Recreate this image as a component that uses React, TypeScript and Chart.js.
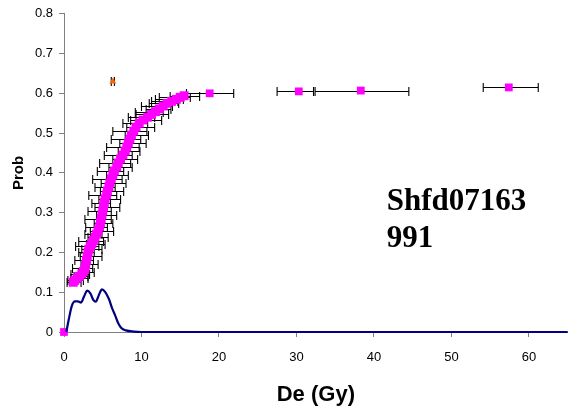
import React, { useEffect, useRef } from "react";
import { Chart, registerables } from "chart.js";

Chart.register(...registerables);

// Sorted De values (Gy) and cumulative probability (magenta curve)
const curveDe = [
  1.2, 1.4, 1.7, 2.0, 2.3, 2.5, 2.7, 2.8, 2.9, 3.0, 3.1, 3.2, 3.4, 3.6, 3.8, 4.0, 4.2, 4.4, 4.6,
  4.7, 4.8, 4.9, 5.0, 5.1, 5.2, 5.3, 5.5, 5.6, 5.8, 5.9, 6.1, 6.3, 6.5, 6.8, 7.0, 7.3, 7.6, 7.9,
  8.1, 8.3, 8.5, 8.7, 9.0, 9.3, 9.7, 10.2, 10.8, 11.3, 11.8, 12.3, 12.8, 13.3, 13.9, 14.5, 15.0,
  15.5,
];
const curveProb = [
  0.125, 0.13, 0.135, 0.14, 0.146, 0.152, 0.16, 0.17, 0.18, 0.19, 0.2, 0.208, 0.216, 0.222, 0.23,
  0.238, 0.246, 0.255, 0.265, 0.275, 0.285, 0.295, 0.305, 0.315, 0.325, 0.335, 0.345, 0.355, 0.365,
  0.375, 0.385, 0.395, 0.405, 0.415, 0.425, 0.435, 0.445, 0.455, 0.465, 0.475, 0.485, 0.495, 0.505,
  0.515, 0.525, 0.533, 0.54, 0.547, 0.554, 0.561, 0.568, 0.575, 0.58, 0.585, 0.59, 0.594,
];
// Individual De measurements behind the curve (centre and half-width of the error bar)
const barDe = [
  1.3, 1.5, 2.0, 2.2, 2.1, 2.9, 2.4, 3.3, 2.6, 3.5, 2.9, 3.6, 3.0, 4.1, 3.5, 4.4, 3.8, 4.9, 4.2,
  5.1, 4.4, 5.5, 4.6, 5.6, 4.8, 5.9, 5.0, 6.2, 5.3, 6.4, 5.6, 6.9, 6.0, 7.3, 6.6, 7.9, 7.0, 8.4,
  7.6, 8.9, 8.0, 9.4, 8.5, 9.9, 9.2, 10.6, 10.0, 11.4, 11.0, 12.2, 12.0, 12.9, 13.0, 13.6, 14.3,
  15.6,
];
const barErr = [
  0.9, 1.0, 1.1, 0.9, 1.2, 1.0, 1.3, 1.1, 1.2, 1.4, 1.0, 1.3, 1.5, 1.2, 1.6, 1.3, 1.1, 1.5, 1.4,
  1.2, 1.7, 1.3, 1.5, 1.6, 1.2, 1.4, 1.8, 1.5, 1.3, 1.6, 1.9, 1.4, 1.7, 1.5, 2.0, 1.6, 1.8, 1.4,
  2.1, 1.7, 1.9, 1.5, 2.2, 1.8, 1.6, 2.0, 1.7, 2.1, 1.8, 1.6, 2.0, 1.9, 1.7, 1.8, 2.0, 1.9,
];
// High-dose points
const farDe = [0, 18.8, 30.3, 38.3, 57.4];
const farProb = [0, 0.6, 0.605, 0.607, 0.615];
const farErrLow = [0, 3.0, 2.8, 5.9, 3.3];
const farErrHigh = [0, 3.1, 1.9, 6.2, 3.8];

// Probability density curve
const densityDe = [
  0.3, 0.6, 1.0, 1.4, 1.8, 2.2, 2.6, 3.0, 3.4, 3.8, 4.1, 4.5, 4.9, 5.3, 5.8, 6.2, 6.6, 7.0, 7.4,
  8.0, 9.0, 10, 20, 30, 40, 50, 65,
];
const densityProb = [
  0, 0.03, 0.065, 0.077, 0.077, 0.074, 0.09, 0.104, 0.097, 0.08, 0.076, 0.093, 0.107, 0.101, 0.083,
  0.06, 0.042, 0.022, 0.01, 0.004, 0.001, 0, 0, 0, 0, 0, 0,
];

// Outlier (orange) point
const outlierDe = [6.3];
const outlierProb = [0.63];
const outlierErr = [0.2];

const xTicks = [0, 10, 20, 30, 40, 50, 60];
const yTicks = [0, 0.1, 0.2, 0.3, 0.4, 0.5, 0.6, 0.7, 0.8];
const sampleLabel = ["Shfd07163", "991"];

const errorBarPlugin = {
  id: "errorBars",
  beforeDatasetsDraw(chart: any) {
    const { ctx, scales } = chart;
    const xs = scales.x;
    const ys = scales.y;
    const draw = (x: number, y: number, lo: number, hi: number) => {
      if (!lo && !hi) return;
      const x1 = xs.getPixelForValue(x - lo);
      const x2 = xs.getPixelForValue(x + hi);
      const py = Math.round(ys.getPixelForValue(y)) + 0.5;
      ctx.beginPath();
      ctx.moveTo(x1, py);
      ctx.lineTo(x2, py);
      ctx.moveTo(x1, py - 4.5);
      ctx.lineTo(x1, py + 4.5);
      ctx.moveTo(x2, py - 4.5);
      ctx.lineTo(x2, py + 4.5);
      ctx.stroke();
    };
    ctx.save();
    ctx.strokeStyle = "#000";
    ctx.lineWidth = 1.1;
    barDe.forEach((d, i) => draw(d, curveProb[i], barErr[i], barErr[i]));
    farDe.forEach((d, i) => draw(d, farProb[i], farErrLow[i], farErrHigh[i]));
    outlierDe.forEach((d, i) => draw(d, outlierProb[i], outlierErr[i], outlierErr[i]));
    ctx.restore();
  },
};

const labelPlugin = {
  id: "sampleLabel",
  afterDraw(chart: any) {
    const { ctx, scales } = chart;
    const x = scales.x.getPixelForValue(41.65);
    const y = scales.y.getPixelForValue(0.306);
    ctx.save();
    ctx.fillStyle = "#000";
    ctx.font = "bold 31px 'Liberation Serif', 'Times New Roman', serif";
    ctx.textAlign = "left";
    ctx.textBaseline = "alphabetic";
    sampleLabel.forEach((t, i) => ctx.fillText(t, x, y + i * 37));
    ctx.restore();
  },
};

export default function App() {
  const ref = useRef<HTMLCanvasElement>(null);
  useEffect(() => {
    if (!ref.current) return;
    const font = "'Liberation Sans', Arial, sans-serif";
    const magenta = "#FF00FF";
    const chart = new Chart(ref.current, {
      type: "scatter",
      data: {
        datasets: [
          {
            type: "line",
            data: densityDe.map((d, i) => ({ x: d, y: densityProb[i] })),
            borderColor: "#000080",
            borderWidth: 2.2,
            pointRadius: 0,
            showLine: true,
            cubicInterpolationMode: "monotone",
            fill: false,
            clip: false,
          } as any,
          {
            data: curveDe.map((d, i) => ({ x: d, y: curveProb[i] })),
            pointStyle: "rect",
            pointRadius: 6.3,
            backgroundColor: magenta,
            borderColor: magenta,
            borderWidth: 0,
            clip: false,
          } as any,
          {
            data: farDe.map((d, i) => ({ x: d, y: farProb[i] })),
            pointStyle: "rect",
            pointRadius: 5.5,
            backgroundColor: magenta,
            borderColor: magenta,
            borderWidth: 0,
            clip: false,
          } as any,
          {
            data: outlierDe.map((d, i) => ({ x: d, y: outlierProb[i] })),
            pointStyle: "triangle",
            pointRadius: 4,
            backgroundColor: "#FF6600",
            borderColor: "#FF6600",
            borderWidth: 0,
          } as any,
        ],
      },
      options: {
        responsive: false,
        animation: false,
        layout: { padding: { top: 13, right: 0, left: 0, bottom: 0 } },
        plugins: { legend: { display: false }, tooltip: { enabled: false } },
        scales: {
          x: {
            type: "linear",
            min: 0,
            max: 65,
            afterBuildTicks: (s: any) => {
              s.ticks = xTicks.map((v) => ({ value: v }));
            },
            afterFit: (s: any) => {
              s.height = 85;
              s.paddingRight = 0;
              s.paddingLeft = 0;
            },
            grid: { drawOnChartArea: false, drawTicks: true, tickLength: 5, color: "#808080" },
            border: { color: "#808080", width: 1 },
            ticks: { color: "#000", font: { family: font, size: 13 }, padding: 13, maxRotation: 0 },
            title: {
              display: true,
              text: "De (Gy)",
              color: "#000",
              font: { family: font, size: 22, weight: "bold" },
              padding: { top: 0, bottom: 9 },
            },
          },
          y: {
            type: "linear",
            min: 0,
            max: 0.8,
            afterBuildTicks: (s: any) => {
              s.ticks = yTicks.map((v) => ({ value: v }));
            },
            afterFit: (s: any) => {
              s.width = 64;
            },
            grid: { drawOnChartArea: false, drawTicks: true, tickLength: 5, color: "#808080" },
            border: { color: "#808080", width: 1 },
            ticks: {
              color: "#000",
              font: { family: font, size: 13 },
              padding: 6,
              callback: (v: any) => String(Math.round(Number(v) * 10) / 10),
            },
            title: {
              display: true,
              text: "Prob",
              color: "#000",
              font: { family: font, size: 15, weight: "bold" },
              padding: { top: 10, bottom: 0 },
            },
          },
        },
      } as any,
      plugins: [errorBarPlugin, labelPlugin],
    });
    return () => chart.destroy();
  }, []);
  return (
    <div
      style={{
        position: "absolute",
        left: 0,
        top: 0,
        width: 568,
        height: 417,
        overflow: "hidden",
        background: "#fff",
      }}
    >
      <canvas ref={ref} width={574} height={417} style={{ display: "block" }} />
    </div>
  );
}
